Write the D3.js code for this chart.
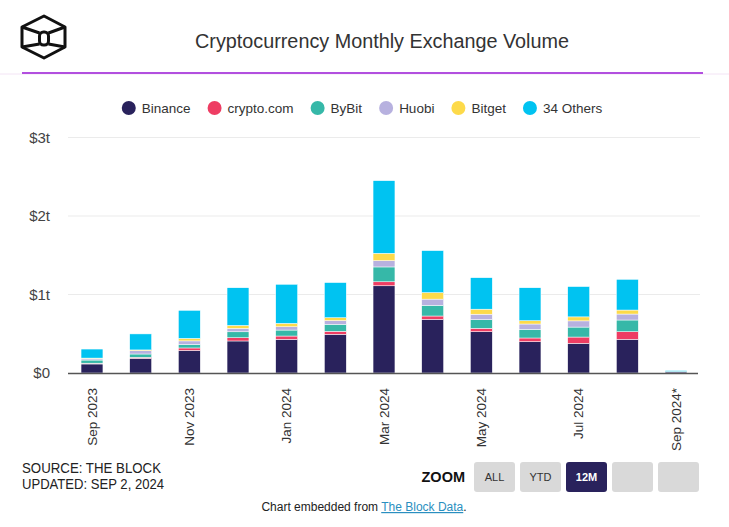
<!DOCTYPE html>
<html>
<head>
<meta charset="utf-8">
<script src="https://cdn.jsdelivr.net/npm/d3@7"></script>
<style>
  html, body { margin: 0; padding: 0; background: #fff; }
  svg { display: block; }
  text { font-family: "Liberation Sans", Arial, sans-serif; }
</style>
</head>
<body>
<svg id="chart" width="729" height="527"></svg>
<script>
// ---------- DATA (trillions USD) ----------
const months = ["Sep 2023","Oct 2023","Nov 2023","Dec 2023","Jan 2024","Feb 2024","Mar 2024","Apr 2024","May 2024","Jun 2024","Jul 2024","Aug 2024","Sep 2024"];
const tickMonths = ["Sep 2023","Nov 2023","Jan 2024","Mar 2024","May 2024","Jul 2024","Sep 2024"];
const tickMonthLabels = ["Sep 2023","Nov 2023","Jan 2024","Mar 2024","May 2024","Jul 2024","Sep 2024*"];
const seriesNames = ["Binance","crypto.com","ByBit","Huobi","Bitget","34 Others"];
const binance   = [0.115,0.187,0.287,0.408,0.429,0.493,1.111,0.684,0.526,0.399,0.378,0.429,0.013];
const cryptoCom = [0.010,0.013,0.032,0.041,0.042,0.038,0.051,0.042,0.043,0.047,0.080,0.097,0.001];
const bybit     = [0.040,0.042,0.045,0.076,0.076,0.089,0.189,0.136,0.110,0.110,0.127,0.149,0.003];
const huobi     = [0.015,0.042,0.045,0.043,0.042,0.048,0.080,0.079,0.070,0.068,0.079,0.076,0.001];
const bitget    = [0.010,0.010,0.032,0.038,0.043,0.036,0.094,0.083,0.064,0.042,0.051,0.051,0.001];
const others    = [0.115,0.204,0.357,0.480,0.498,0.448,0.925,0.535,0.401,0.420,0.386,0.391,0.012];
const yTicks = [0, 1, 2, 3];
const yTickLabels = ["$0","$1t","$2t","$3t"];
const colors = ["#29225c","#ee3d63","#36b8a8","#b7b1df","#fdda4a","#00c3f1"];

// ---------- BUILD ----------
const svg = d3.select("#chart");
const W = 729, H = 527;

// header
const logo = svg.append("g").attr("fill","none").attr("stroke","#111").attr("stroke-width",3).attr("stroke-linejoin","round");
logo.append("path").attr("d","M44,16 L65,27 L65,47 L44,58 L22,47 L22,27 Z");
logo.append("rect").attr("x",39.5).attr("y",32).attr("width",9).attr("height",13).attr("rx",4);
logo.append("path").attr("d","M22,27 L39.5,33 M65,27 L48.5,33 M22,47 L39.5,44 M65,47 L48.5,44");

svg.append("text").attr("x",382).attr("y",48).attr("text-anchor","middle")
  .attr("font-size",19.5).attr("fill","#333")
  .attr("textLength",374).attr("lengthAdjust","spacingAndGlyphs")
  .text("Cryptocurrency Monthly Exchange Volume");
svg.append("line").attr("x1",0).attr("x2",W).attr("y1",74).attr("y2",74).attr("stroke","#f3e4f5").attr("stroke-width",1);
svg.append("line").attr("x1",22).attr("x2",703).attr("y1",73).attr("y2",73).attr("stroke","#b24fdf").attr("stroke-width",2);

// legend
const legend = svg.append("g");
let lx = 0;
seriesNames.forEach((name,i) => {
  const g = legend.append("g");
  g.append("circle").attr("cx",7).attr("cy",0).attr("r",7).attr("fill",colors[i]);
  const t = g.append("text").attr("x",20).attr("y",0).attr("dy","0.35em")
    .attr("font-size",13.5).attr("fill","#333").text(name);
  const w = 20 + t.node().getComputedTextLength();
  g.attr("transform",`translate(${lx},108)`);
  lx += w + 17;
});
const legendWidth = lx - 17;
legend.attr("transform",`translate(${362 - legendWidth/2},0)`);

// scales
const x = d3.scaleBand().domain(months).range([68,700]).paddingInner(0.55).paddingOuter(0.268);
const y = d3.scaleLinear().domain([0,3]).range([373,137.5]);

// grid
svg.append("g").selectAll("line").data(yTicks.filter(d=>d>0)).join("line")
  .attr("x1",68).attr("x2",700).attr("y1",d=>y(d)).attr("y2",d=>y(d))
  .attr("stroke","#ebebeb").attr("stroke-width",1);

// y axis labels
const yAxis = d3.axisLeft(y).tickValues(yTicks).tickFormat((d,i)=>yTickLabels[i]).tickSize(0).tickPadding(18);
const yg = svg.append("g").attr("transform","translate(68,0)").call(yAxis);
yg.select(".domain").remove();
yg.selectAll("text").attr("font-size",15).attr("fill","#444").attr("font-family","\"Liberation Sans\", Arial, sans-serif");

// stacks
const table = months.map((m,i)=>({month:m, s0:binance[i], s1:cryptoCom[i], s2:bybit[i], s3:huobi[i], s4:bitget[i], s5:others[i]}));
const stack = d3.stack().keys(["s0","s1","s2","s3","s4","s5"])(table);
svg.append("g").selectAll("g").data(stack).join("g")
  .attr("fill",(d,i)=>colors[i])
  .selectAll("rect").data(d=>d).join("rect")
  .attr("x",d=>x(d.data.month)).attr("width",x.bandwidth())
  .attr("y",d=>y(d[1])).attr("height",d=>Math.max(0,y(d[0])-y(d[1])))
  .attr("stroke","#fff").attr("stroke-width",d=>(d[1]-d[0])>0.005?0.5:0);

// x axis
svg.append("line").attr("x1",68).attr("x2",698).attr("y1",373.5).attr("y2",373.5)
  .attr("stroke","#555").attr("stroke-width",1.5);
const xAxis = d3.axisBottom(x).tickValues(tickMonths)
  .tickFormat(d=>tickMonthLabels[tickMonths.indexOf(d)]).tickSize(0);
const xg = svg.append("g").attr("transform","translate(0,373)").call(xAxis);
xg.select(".domain").remove();
xg.selectAll("text")
  .attr("transform","translate(0,15) rotate(-90)")
  .attr("x",0).attr("y",0).attr("dy","0.35em")
  .attr("text-anchor","end")
  .attr("font-size",13.5).attr("fill","#333")
  .attr("font-family","\"Liberation Sans\", Arial, sans-serif");

// footer
const footFont = "\"Liberation Sans Narrow\", \"DejaVu Sans Condensed\", \"Liberation Sans\", sans-serif";
svg.append("text").attr("x",22).attr("y",473).attr("font-size",14.5).attr("fill","#222")
  .attr("font-family",footFont).attr("textLength",139).attr("lengthAdjust","spacingAndGlyphs")
  .text("SOURCE: THE BLOCK");
svg.append("text").attr("x",22).attr("y",489).attr("font-size",14.5).attr("fill","#222")
  .attr("font-family",footFont).attr("textLength",142).attr("lengthAdjust","spacingAndGlyphs")
  .text("UPDATED: SEP 2, 2024");

svg.append("text").attr("x",465).attr("y",482).attr("text-anchor","end").attr("font-size",14.5)
  .attr("font-weight","bold").attr("fill","#111").attr("font-family",footFont).text("ZOOM");
const buttons = ["ALL","YTD","12M","",""];
buttons.forEach((b,i)=>{
  const bx = 474 + i*46;
  const active = b === "12M";
  svg.append("rect").attr("x",bx).attr("y",462).attr("width",41).attr("height",30).attr("rx",3)
    .attr("fill",active ? "#29225c" : "#d9d9d9");
  if (b) svg.append("text").attr("x",bx+20.5).attr("y",477).attr("dy","0.35em").attr("text-anchor","middle")
    .attr("font-size",11).attr("font-weight",active?"bold":"normal").attr("fill",active?"#fff":"#333")
    .attr("font-family",footFont).text(b);
});

const emb = svg.append("text").attr("x",364).attr("y",511).attr("text-anchor","middle")
  .attr("font-size",12).attr("fill","#222").attr("font-family",footFont);
emb.append("tspan").text("Chart embedded from ");
emb.append("tspan").attr("fill","#2a8fc0").attr("text-decoration","underline").text("The Block Data");
emb.append("tspan").text(".");
</script>
</body>
</html>
